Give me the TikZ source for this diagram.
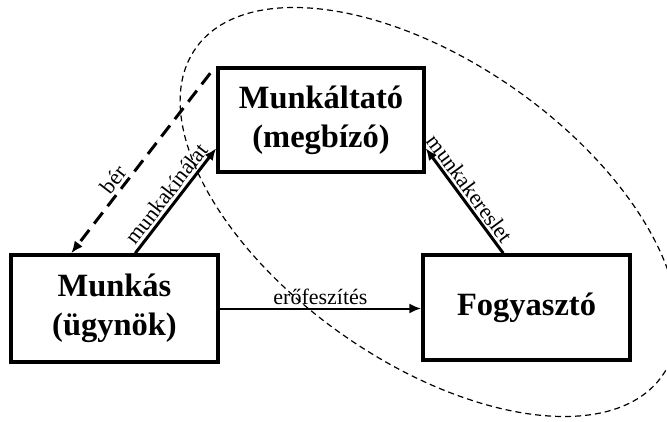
\documentclass[tikz,border=0pt]{standalone}
\usepackage{fontspec}
\setmainfont{Liberation Serif}
\usetikzlibrary{arrows.meta,calc}
\begin{document}
\begin{tikzpicture}[x=1pt,y=1pt,
  box/.style={draw,line width=3.5pt,rectangle,inner sep=0pt,minimum width=207pt,minimum height=105pt,align=center,font=\fontsize{32.5}{39}\selectfont\bfseries},
  conn/.style={line width=3pt,-{Latex[length=12pt,width=10pt]}},
  lbl/.style={font=\fontsize{22}{26}\selectfont,inner sep=2.5pt,sloped},
  ell/.style={dashed,line width=1.2pt,dash pattern=on 6pt off 4pt}]
\useasboundingbox (0,0) rectangle (667,-422);
\draw[ell,rotate around={-35:(429,-212)}] (429,-212) ellipse [x radius=285, y radius=150];
\node[box,fill=white,minimum width=206pt,minimum height=104pt] (m) at (321,-120) {Munkáltató\\(megbízó)};
\node[box,fill=white,minimum height=107pt] (w) at (114.5,-308.5) {Munkás\\(ügynök)};
\node[box,fill=white] (f) at (526.5,-307.5) {Fogyasztó};
\draw[conn] ([xshift=126pt]w.north west) -- node[lbl,above,pos=0.5] {munkakínálat} ([yshift=-82pt]m.north west);
\draw[conn] ([xshift=82pt]f.north west) -- node[lbl,above,pos=0.55] {munkakereslet} ([yshift=-82pt]m.north east);
\draw[conn,line width=2pt] (w.east) -- node[lbl,above,inner sep=3pt] {erőfeszítés} (w.east -| f.west);
\draw[conn,dash pattern=on 14pt off 8pt] ([xshift=-6pt,yshift=-7pt]m.north west) -- node[lbl,above,pos=0.63] {bér} ([xshift=62pt]w.north west);
\end{tikzpicture}
\end{document}
